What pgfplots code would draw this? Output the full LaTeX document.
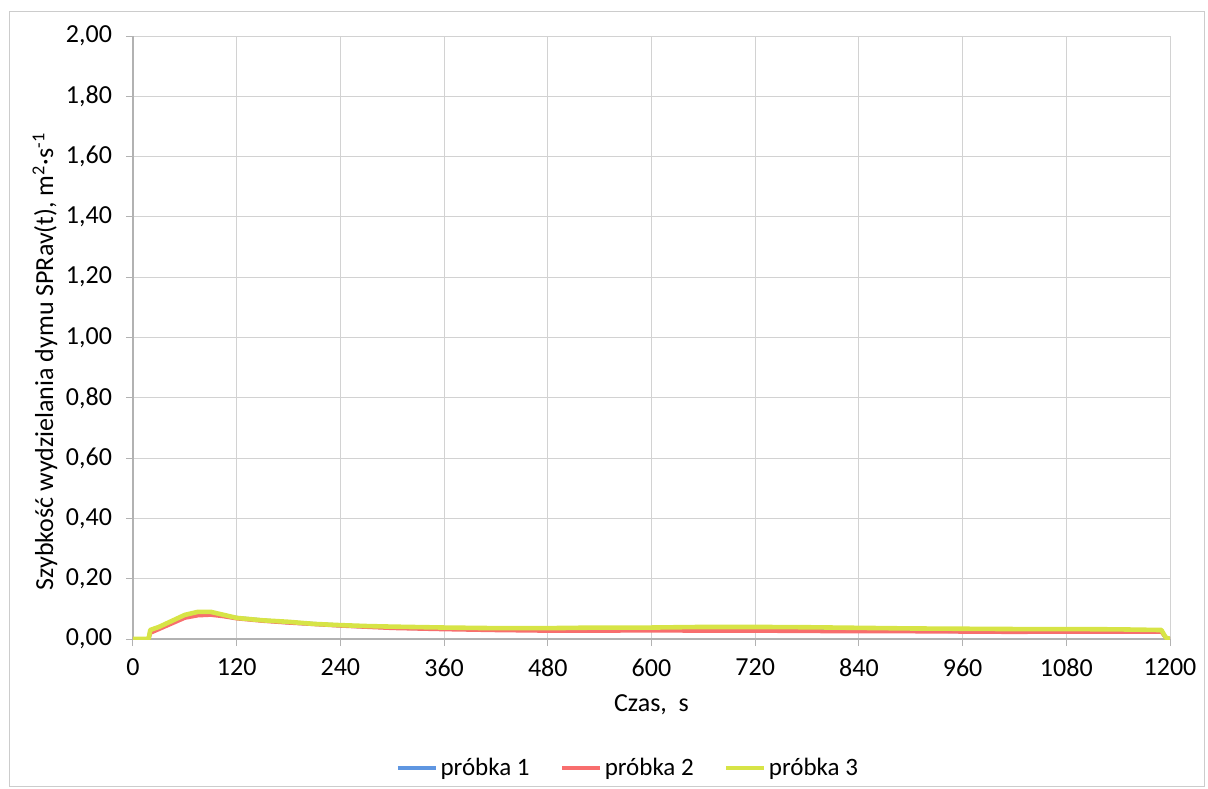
\documentclass[border=0pt]{standalone}
\usepackage{fontspec}
\setmainfont{Carlito}
\usepackage{pgfplots}
\pgfplotsset{compat=1.18}
\definecolor{s1}{RGB}{95,150,225}
\definecolor{s2}{RGB}{248,110,110}
\definecolor{s3}{RGB}{215,228,70}
\begin{document}
\begin{tikzpicture}
\path[use as bounding box] (-66.5pt,-74.5pt) rectangle (537.5pt,319.5pt);
\draw[gray!40, line width=0.5pt] (-61.5pt,-73.5pt) rectangle (535.5pt,313.5pt);
\begin{axis}[
  at={(0pt,0pt)}, anchor=origin,
  scale only axis, width=518.5pt, height=301.5pt,
  xmin=0, xmax=1200, ymin=0, ymax=2,
  xtick={0,120,...,1200},
  ytick={0,0.2,...,2.01},
  grid=major,
  grid style={gray!35, line width=0.5pt},
  axis line style={gray!60, line width=0.6pt},
  axis x line*=bottom, axis y line*=left,
  tick align=outside, major tick length=3.5pt,
  tick style={gray!60, line width=0.5pt},
  font=\fontsize{13}{15}\selectfont,
  /pgf/number format/assume math mode=true,
  yticklabel style={xshift=-3.5pt, /pgf/number format/.cd, fixed, fixed zerofill, precision=2, use comma},
  xticklabel style={yshift=-3pt, /pgf/number format/.cd, fixed, precision=0, 1000 sep={}},
  xlabel={Czas,\ \ s},
  ylabel={Szybkość wydzielania dymu SPRav(t), m\textsuperscript{2}·s\textsuperscript{-1}},
  xlabel style={at={(axis description cs:0.5,0)}, anchor=center, yshift=-33pt},
  ylabel style={at={(axis description cs:0,0.46)}, anchor=center, yshift=44pt},
  legend columns=3,
  legend style={draw=none, fill=none, at={(0.478,-0.214)}, anchor=center, font=\fontsize{12.5}{14}\selectfont,
    nodes={inner xsep=1.5pt},
    /tikz/every even column/.append style={column sep=14pt}},
  legend image code/.code={\draw[#1, line width=1.6pt] (0pt,0pt) -- (19pt,0pt);},
]
\addplot[s1, line width=2pt, line join=round] coordinates {
(0,0) (18,0) (20,0.025) (40,0.050) (60,0.075) (80,0.085) (100,0.080) (120,0.070)
(150,0.062) (180,0.055) (240,0.045) (300,0.038) (360,0.034) (420,0.032) (480,0.030)
(540,0.031) (600,0.031) (660,0.031) (720,0.030) (780,0.029) (840,0.028) (900,0.028)
(960,0.026) (1020,0.025) (1080,0.027) (1140,0.027) (1190,0.027) (1195,0.005) (1200,0)
};
\addlegendentry{próbka 1}
\addplot[s2, line width=2pt, line join=round] coordinates {
(0,0) (18,0) (20,0.020) (40,0.045) (60,0.070) (75,0.078) (90,0.080) (105,0.075) (120,0.068)
(150,0.060) (180,0.054) (210,0.049) (240,0.044) (270,0.040) (300,0.036) (360,0.032)
(420,0.029) (480,0.027) (540,0.027) (600,0.028) (660,0.027) (720,0.027) (780,0.026)
(840,0.025) (900,0.025) (960,0.024) (1020,0.023) (1080,0.024) (1140,0.024) (1190,0.024)
(1195,0.005) (1200,0)
};
\addlegendentry{próbka 2}
\addplot[s3, line width=2.3pt, line join=round] coordinates {
(0,0) (18,0) (20,0.030) (30,0.040) (45,0.060) (60,0.080) (75,0.090) (90,0.090) (105,0.080)
(120,0.070) (150,0.062) (180,0.057) (210,0.050) (240,0.046) (270,0.043) (300,0.041)
(360,0.038) (420,0.036) (480,0.036) (540,0.038) (600,0.038) (660,0.040) (720,0.040)
(780,0.039) (840,0.037) (900,0.035) (960,0.034) (1020,0.033) (1080,0.033) (1140,0.032)
(1185,0.030) (1190,0.030) (1195,0.005) (1200,0)
};
\addlegendentry{próbka 3}
\end{axis}
\end{tikzpicture}
\end{document}
